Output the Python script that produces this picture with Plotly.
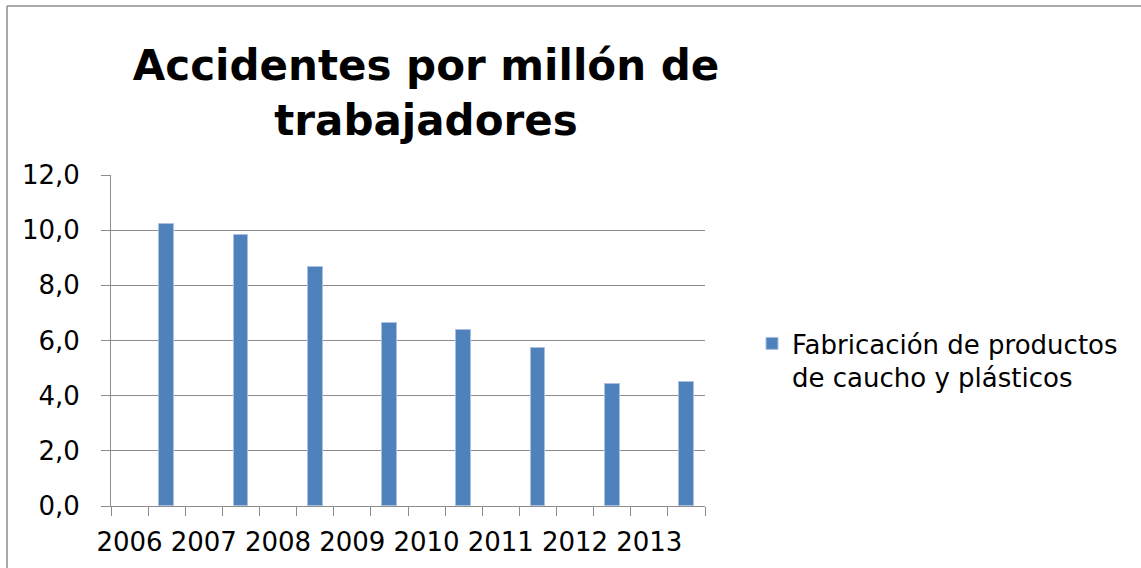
import plotly.graph_objects as go

# Data
years = ["2006", "2007", "2008", "2009", "2010", "2011", "2012", "2013"]
accidents = [10.24, 9.84, 8.65, 6.64, 6.38, 5.73, 4.44, 4.51]
series_name = "Fabricación de productos<br>de caucho y plásticos"
title_text = "Accidentes por millón de<br>trabajadores"
y_ticks = [0, 2, 4, 6, 8, 10, 12]

W, H = 1141, 568
L, R, T, B = 111, 705, 175, 506   # plot area in pixels
FONT = "DejaVu Sans"
GRID = "#8c8c8c"

# each year occupies two category slots: label in the first, bar in the second
label_pos = [2 * i for i in range(len(years))]
bar_pos = [2 * i + 1 for i in range(len(years))]
n_slots = 2 * len(years)


def px_to_paper_x(px):
    return (px - L) / (R - L)


def px_to_paper_y(py):
    return (B - py) / (B - T)


fig = go.Figure()
fig.add_trace(go.Bar(
    x=bar_pos,
    y=accidents,
    width=0.4,
    name=series_name,
    marker=dict(color="#4f81bd", line=dict(color="#a9c0e0", width=1)),
))

fig.update_layout(
    width=W,
    height=H,
    margin=dict(l=L, r=W - R, t=T, b=H - B, pad=0),
    paper_bgcolor="white",
    plot_bgcolor="white",
    separators=",.",
    font=dict(family=FONT, color="#000000", size=26),
    title=dict(
        text=title_text,
        font=dict(family=FONT, size=42, color="#000000", weight="bold"),
        x=426 / W,
        xref="container",
        xanchor="center",
        y=1 - 80 / H,
        yref="container",
        yanchor="top",
    ),
    bargap=0,
    showlegend=True,
    legend=dict(
        x=px_to_paper_x(752),
        xanchor="left",
        y=px_to_paper_y(320),
        yanchor="top",
        valign="top",
        font=dict(family=FONT, size=26, color="#000000"),
        bgcolor="rgba(0,0,0,0)",
        itemwidth=30,
    ),
    xaxis=dict(
        range=[-0.5, n_slots - 0.5],
        tickmode="array",
        tickvals=label_pos,
        ticktext=years,
        ticks="",
        showgrid=False,
        showline=True,
        linecolor=GRID,
        linewidth=1,
        ticklabelstandoff=13,
        minor=dict(
            tickmode="linear",
            tick0=-0.5,
            dtick=1,
            ticks="outside",
            ticklen=9,
            tickcolor=GRID,
            tickwidth=1,
            showgrid=False,
        ),
        fixedrange=True,
    ),
    yaxis=dict(
        range=[0, 12],
        tickmode="array",
        tickvals=y_ticks,
        tickformat=".1f",
        ticks="outside",
        ticklen=9,
        tickcolor=GRID,
        showgrid=True,
        gridcolor=GRID,
        gridwidth=1,
        showline=True,
        linecolor=GRID,
        linewidth=1,
        zeroline=False,
        ticklabelstandoff=16,
        fixedrange=True,
    ),
    shapes=[
        # chart frame (left and top edges)
        dict(type="line", xref="paper", yref="paper",
             x0=px_to_paper_x(7), x1=px_to_paper_x(7),
             y0=px_to_paper_y(6), y1=px_to_paper_y(H + 5),
             line=dict(color="#8c8c8c", width=1.5)),
        dict(type="line", xref="paper", yref="paper",
             x0=px_to_paper_x(7), x1=px_to_paper_x(W + 5),
             y0=px_to_paper_y(6), y1=px_to_paper_y(6),
             line=dict(color="#8c8c8c", width=1.5)),
    ],
)

fig.write_html("out.html")
